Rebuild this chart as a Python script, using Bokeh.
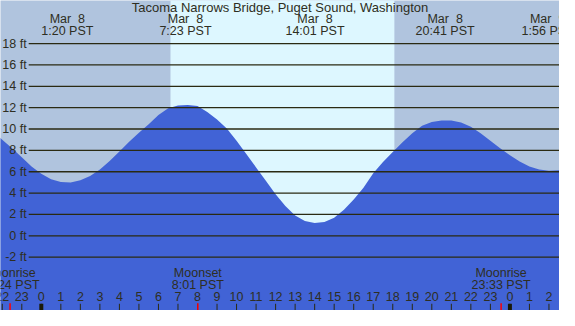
from bokeh.plotting import figure
from bokeh.models import Range1d
from bokeh.core.properties import value
from bokeh.embed import file_html
from bokeh.resources import INLINE

# ---------------- data ----------------
title = "Tacoma Narrows Bridge, Puget Sound, Washington"

tide_hours = [-2.5, -2.0, -1.5, -1.0, -0.5,
              0.0, 0.5, 1.0, 1.5, 2.0, 2.5, 3.0, 3.5, 4.0, 4.5,
              5.0, 5.5, 6.0, 6.5, 7.0, 7.5, 8.0, 8.5, 9.0, 9.5,
              10.0, 10.5, 11.0, 11.5, 12.0, 12.5, 13.0, 13.5, 14.0, 14.5,
              15.0, 15.5, 16.0, 16.5, 17.0, 17.5, 18.0, 18.5, 19.0, 19.5,
              20.0, 20.5, 21.0, 21.5, 22.0, 22.5, 23.0, 23.5, 24.0, 24.5,
              25.0, 25.5, 26.0, 26.5, 27.0]
tide_ft = [9.8, 9.0, 8.2, 7.35, 6.5,
           5.8, 5.3, 5.05, 5.0, 5.2, 5.6, 6.2, 7.0, 7.9, 8.8,
           9.65, 10.45, 11.3, 11.95, 12.2, 12.25, 12.15, 11.6, 10.9, 10.05,
           8.9, 7.65, 6.4, 5.15, 3.9, 2.8, 1.9, 1.4, 1.2, 1.3,
           1.7, 2.45, 3.4, 4.5, 5.85, 6.9, 7.85, 8.75, 9.6, 10.3,
           10.65, 10.8, 10.8, 10.6, 10.2, 9.6, 8.9, 8.2, 7.55, 6.95,
           6.5, 6.2, 6.1, 6.15, 6.3]

# high / low tide events (hour from midnight Mar 8)
event_hours = [1 + 20 / 60, 7 + 23 / 60, 14 + 1 / 60, 20 + 41 / 60, 24 + 1 + 56 / 60]
event_dates = ["Mar \u00a08", "Mar \u00a08", "Mar \u00a08", "Mar \u00a08", "Mar \u00a09"]
event_times = ["1:20 PST", "7:23 PST", "14:01 PST", "20:41 PST", "1:56 PST"]

# sun
sunrise_hour = 6 + 37 / 60
sunset_hour = 18 + 5 / 60

# moon events
moon_hours = [-24 + 22 + 24 / 60, 8 + 1 / 60, 23 + 33 / 60]
moon_names = ["Moonrise", "Moonset", "Moonrise"]
moon_times = ["22:24 PST", "8:01 PST", "23:33 PST"]

# axes
ft_levels = [-2, 0, 2, 4, 6, 8, 10, 12, 14, 16, 18]
ft_labels = [f"{v} ft" for v in ft_levels]
hour_ticks = list(range(-2, 27))
hour_labels = [str(h % 24) for h in hour_ticks]
midnight_ticks = [0, 24]

# ---------------- figure ----------------
X0, X1 = -2.09, 26.54
Y0, Y1 = -6.99, 22.03
W, H = 559, 310

p = figure(width=W, height=H, output_backend="svg", toolbar_location=None,
           x_range=Range1d(X0, X1), y_range=Range1d(Y0, Y1), min_border=0)
p.axis.visible = False
p.grid.visible = False
p.outline_line_color = None
p.background_fill_color = "#B0C4DE"
p.border_fill_color = "#B0C4DE"

FONT = value("Liberation Sans")
FS = "12.5px"
TXT = "#2e2e22"
LINE = "#2a2a12"

# daylight
p.quad(left=[sunrise_hour], right=[sunset_hour], bottom=[Y0 - 1], top=[Y1 + 1],
       fill_color="#DDF7FF", line_color=None)

# tide fill
p.varea(x=tide_hours, y1=[Y0 - 2] * len(tide_hours), y2=tide_ft, fill_color="#4163D6")

# horizontal level lines
p.segment(x0=[-0.646] * len(ft_levels), x1=[X1 + 1] * len(ft_levels),
          y0=ft_levels, y1=ft_levels, line_color=LINE, line_width=1.3)
p.text(x=[-0.75] * len(ft_levels), y=ft_levels, text=ft_labels,
       text_align="right", text_baseline="middle", text_font=FONT,
       text_font_size=FS, text_color=TXT)

# title and event labels
p.text(x=[(X0 + X1) / 2], y=[21.4], text=[title], text_align="center",
       text_baseline="middle", text_font=FONT, text_font_size="13px", text_color=TXT)
p.text(x=event_hours, y=[20.31] * 5, text=event_dates, text_align="center",
       text_baseline="middle", text_font=FONT, text_font_size=FS, text_color=TXT)
p.text(x=event_hours, y=[19.21] * 5, text=event_times, text_align="center",
       text_baseline="middle", text_font=FONT, text_font_size=FS, text_color=TXT)

# moon labels
p.text(x=moon_hours, y=[-3.45] * 3, text=moon_names, text_align="center",
       text_baseline="middle", text_font=FONT, text_font_size=FS, text_color=TXT)
p.text(x=moon_hours, y=[-4.62] * 3, text=moon_times, text_align="center",
       text_baseline="middle", text_font=FONT, text_font_size=FS, text_color=TXT)

# hour labels and ticks
p.text(x=hour_ticks, y=[-5.72] * len(hour_ticks), text=hour_labels, text_align="center",
       text_baseline="middle", text_font=FONT, text_font_size=FS, text_color=TXT)
p.segment(x0=hour_ticks, x1=hour_ticks, y0=[-6.36] * len(hour_ticks),
          y1=[Y0 - 1] * len(hour_ticks), line_color=LINE, line_width=1)
p.segment(x0=midnight_ticks, x1=midnight_ticks, y0=[-6.36] * 2, y1=[Y0 - 1] * 2,
          line_color="#1a1a08", line_width=4)
p.segment(x0=moon_hours, x1=moon_hours, y0=[-6.3] * 3, y1=[Y0 - 1] * 3,
          line_color="#FF0000", line_width=1.5)

open("out.html", "w").write(file_html(p, INLINE))
